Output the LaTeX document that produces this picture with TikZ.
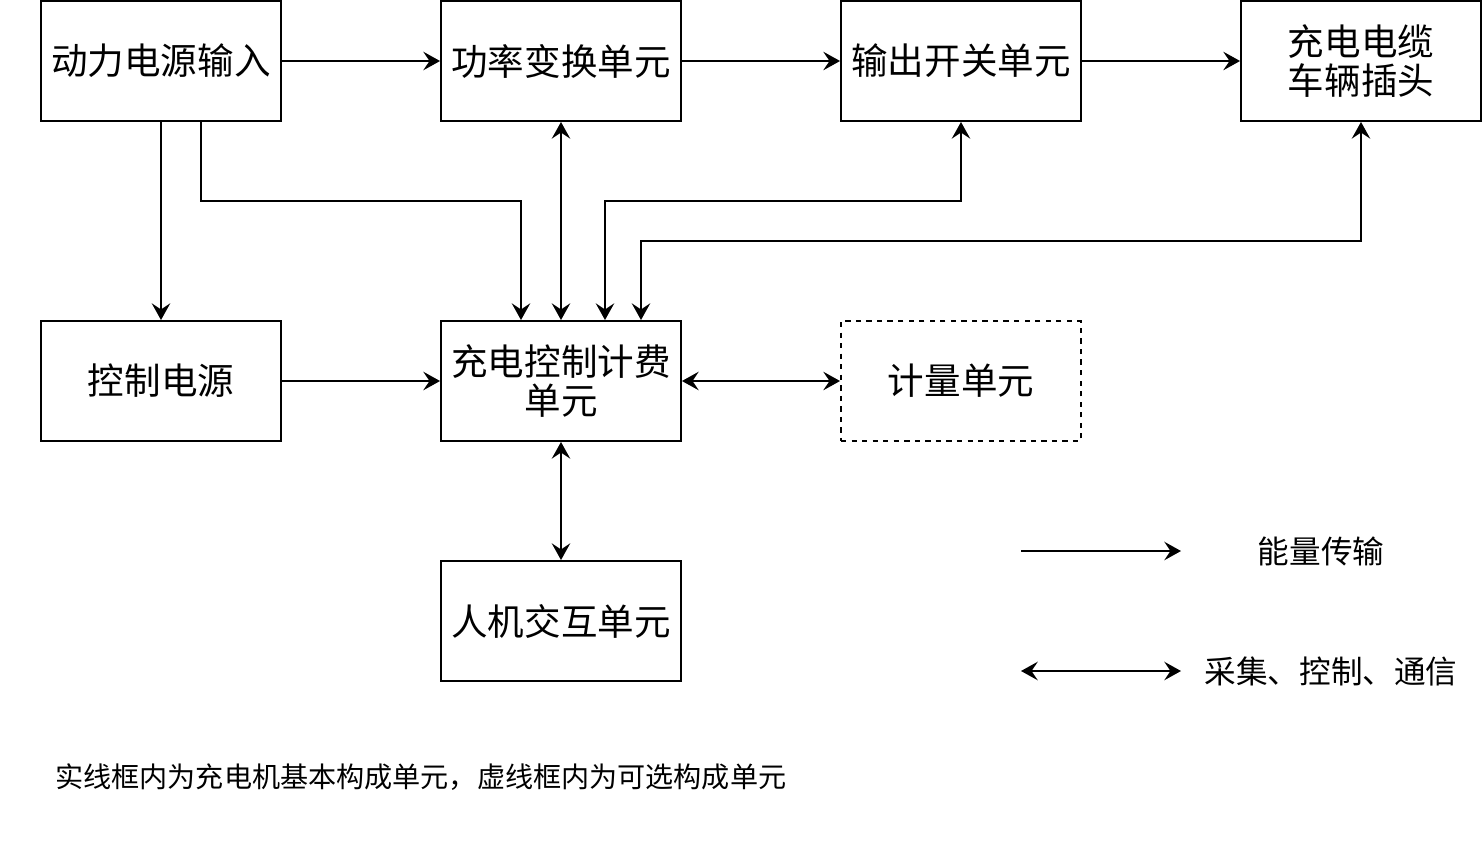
\documentclass[tikz,border=0pt]{standalone}
\usepackage{fontspec}
\setmainfont{Noto Sans CJK SC}
\usetikzlibrary{arrows.meta}
\tikzset{
  box/.style={draw, line width=1.1pt, minimum width=4.8cm, minimum height=2.4cm, align=center, font=\fontsize{20.8}{23}\selectfont, inner sep=0pt},
  dbox/.style={box, dashed, dash pattern=on 3pt off 3pt},
  conn/.style={line width=1.1pt, -{Stealth[length=9.5pt, width=10.5pt, inset=3.5pt]}},
  bconn/.style={line width=1.1pt, {Stealth[length=9.5pt, width=10.5pt, inset=3.5pt]}-{Stealth[length=9.5pt, width=10.5pt, inset=3.5pt]}},
  lbl/.style={font=\fontsize{18}{21}\selectfont, inner sep=0pt},
}
\begin{document}
\begin{tikzpicture}[x=0.02cm, y=-0.02cm]
\useasboundingbox (0,0) rectangle (1482,842);
\node[box] (pin) at (161,61) {动力电源输入};
\node[box] (pc) at (561,61) {功率变换单元};
\node[box] (osw) at (961,61) {输出开关单元};
\node[box] (cab) at (1361,61) {充电电缆\\[-1pt]车辆插头};
\node[box] (cps) at (161,381) {控制电源};
\node[box] (ctl) at (561,381) {充电控制计费\\[-1pt]单元};
\node[dbox] (met) at (961,381) {计量单元};
\node[box] (hmi) at (561,621) {人机交互单元};

\draw[conn] (pin) -- (pc);
\draw[conn] (pc) -- (osw);
\draw[conn] (osw) -- (cab);
\draw[conn] (pin) -- (cps);
\draw[conn] (pin.south -| 201,0) -- (201,201) -- (521,201) -- (ctl.north -| 521,0);
\draw[bconn] (pc) -- (ctl);
\draw[bconn] (osw.south) -- (961,201) -- (605,201) -- (ctl.north -| 605,0);
\draw[bconn] (cab.south) -- (1361,241) -- (641,241) -- (ctl.north -| 641,0);
\draw[conn] (cps) -- (ctl);
\draw[bconn] (ctl) -- (met);
\draw[bconn] (ctl) -- (hmi);

\coordinate (l1a) at (1021,551);
\coordinate (l1b) at (1181,551);
\coordinate (l2a) at (1021,671);
\coordinate (l2b) at (1181,671);
\draw[conn] (l1a) -- (l1b);
\draw[bconn] (l2a) -- (l2b);
\node[lbl] (t1) at (1321,551) {能量传输};
\node[lbl] (t2) at (1331,671) {采集、控制、通信};

\node[anchor=west, inner sep=0pt, font=\fontsize{16}{18}\selectfont] (note) at (55,777) {实线框内为充电机基本构成单元，虚线框内为可选构成单元};
\end{tikzpicture}
\end{document}
